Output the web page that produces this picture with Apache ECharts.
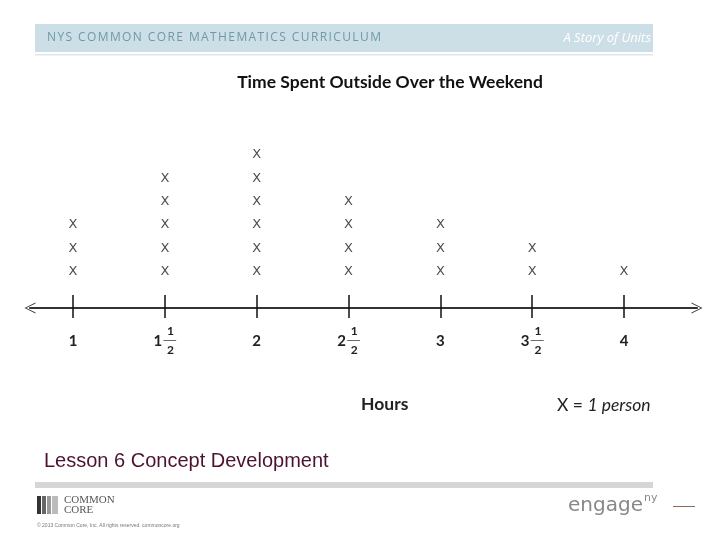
<!DOCTYPE html>
<html>
<head>
<meta charset="utf-8">
<script src="https://cdn.jsdelivr.net/npm/echarts@6/dist/echarts.min.js"></script>
<style>html,body{margin:0;padding:0;background:#fff}#c{width:720px;height:540px}</style>
</head>
<body>
<div id="c"></div>
<script>
// ---- data ----
const hours = [1, 1.5, 2, 2.5, 3, 3.5, 4];
const counts = [3, 5, 6, 4, 3, 2, 1];
const tickWhole = ['1', '1', '2', '2', '3', '3', '4'];
const tickNum = ['', '1', '', '1', '', '1', ''];
const tickDen = ['', '2', '', '2', '', '2', ''];
const chartTitle = 'Time Spent Outside Over the Weekend';
const axisName = 'Hours';
const keyText = 'X = ';
const keyItalic = '1 person';
const headerLeft = 'NYS COMMON CORE MATHEMATICS CURRICULUM';
const headerRight = 'A Story of Units';
const lessonText = 'Lesson 6 Concept Development';

const points = [];
hours.forEach((h, i) => { for (let k = 1; k <= counts[i]; k++) points.push([h, k]); });

const chart = echarts.init(document.getElementById('c'), null, {renderer: 'canvas'});

function tickLabel(v) {
  const i = hours.findIndex(h => Math.abs(h - v) < 1e-6);
  if (i < 0) return '';
  if (tickNum[i]) {
    return '{s|\u00a0}{n|' + tickNum[i] + '}\n{wm|' + tickWhole[i] + '}{bar|──}\n{s|\u00a0}{n|' + tickDen[i] + '}';
  }
  return '{e|\u00a0}\n{w|' + tickWhole[i] + '}\n{e|\u00a0}';
}

const spaced = headerLeft.split('').map(c => '{c|' + c + '}').join('');

const chevron = 'path://M0,10 L5,0 L10,10 L9,10 L5,1.6 L1,10 Z';

chart.setOption({
  animation: false,
  grid: {left: 30, right: 23, top: 97.4, bottom: 232, containLabel: false, outerBoundsMode: 'none'},
  xAxis: [{
    type: 'value', min: 0.766, max: 4.397, position: 'bottom',
    splitLine: {show: false},
    axisLine: {show: true, onZero: false, lineStyle: {color: '#333', width: 2}, symbol: [chevron, chevron], symbolSize: [11, 12]},
    axisTick: {show: true, customValues: hours, length: 10, lineStyle: {color: '#111', width: 1.5}},
    axisLabel: {
      show: true, customValues: hours, margin: 18, formatter: tickLabel,
      rich: {
        w: {fontFamily: 'Lato', fontWeight: 'bold', fontSize: 15, color: '#222', lineHeight: 8},
        wm: {fontFamily: 'Lato', fontWeight: 'bold', fontSize: 15, color: '#222', lineHeight: 4, width: 10, align: 'left'},
        n: {fontFamily: 'Lato', fontWeight: 'bold', fontSize: 12, color: '#222', lineHeight: 11},
        s: {width: 11.5, fontSize: 12, lineHeight: 11},
        e: {fontSize: 12, lineHeight: 11},
        bar: {fontSize: 9, color: '#111', lineHeight: 8}
      }
    }
  }, {
    type: 'value', min: 0.766, max: 4.397, position: 'bottom', offset: 0,
    splitLine: {show: false},
    axisLine: {show: false, onZero: false},
    axisTick: {show: true, inside: true, customValues: hours, length: 13, lineStyle: {color: '#111', width: 1.5}},
    axisLabel: {show: false}
  }],
  yAxis: {type: 'value', min: -0.55, max: 8.45, show: false, splitLine: {show: false}},
  series: [{
    type: 'scatter', xAxisIndex: 0, data: points, symbolSize: 1,
    itemStyle: {color: 'rgba(0,0,0,0)'},
    label: {show: true, position: 'inside', formatter: 'X', fontFamily: 'DejaVu Sans', fontSize: 13, color: '#222'}
  }],
  graphic: [
    {type: 'rect', shape: {x: 35, y: 24, width: 618, height: 28}, style: {fill: '#cddfe6'}},
    {type: 'rect', shape: {x: 35, y: 54, width: 618, height: 1.5}, style: {fill: '#dde6ea'}},
    {type: 'text', x: 47, y: 38, style: {text: spaced, verticalAlign: 'middle',
      rich: {c: {fontFamily: 'Open Sans', fontSize: 12, fill: '#6f98a8', padding: [0, 1.4, 0, 0]}}}},
    {type: 'text', x: 651, y: 38, style: {text: headerRight, fontFamily: 'Open Sans', fontStyle: 'italic', fontSize: 13, fill: '#ffffff', align: 'right', verticalAlign: 'middle'}},
    {type: 'text', x: 390, y: 82, style: {text: chartTitle, fontFamily: 'Lato', fontWeight: 'bold', fontSize: 17.5, fill: '#111', align: 'center', verticalAlign: 'middle'}},
    {type: 'text', x: 361, y: 404, style: {text: axisName, fontFamily: 'Lato', fontWeight: 'bold', fontSize: 17.5, fill: '#222', verticalAlign: 'middle'}},
    {type: 'text', x: 557, y: 405, style: {text: '{a|' + keyText + '}{b|' + keyItalic + '}', verticalAlign: 'middle',
      rich: {a: {fontFamily: 'Lato', fontSize: 17.5, fill: '#222'}, b: {fontFamily: 'Lato', fontStyle: 'italic', fontSize: 17.5, fill: '#222'}}}},
    {type: 'text', x: 44, y: 461, style: {text: lessonText, fontFamily: 'Liberation Sans', fontSize: 20, fill: '#4d1232', verticalAlign: 'middle'}},
    {type: 'rect', shape: {x: 35, y: 482, width: 618, height: 6}, style: {fill: '#d6d6d6'}},
    {type: 'rect', shape: {x: 37, y: 496, width: 4, height: 18}, style: {fill: '#333'}},
    {type: 'rect', shape: {x: 42, y: 496, width: 4, height: 18}, style: {fill: '#666'}},
    {type: 'rect', shape: {x: 47, y: 496, width: 4, height: 18}, style: {fill: '#999'}},
    {type: 'rect', shape: {x: 52, y: 496, width: 6, height: 18}, style: {fill: '#bbb'}},
    {type: 'text', x: 64, y: 500, style: {text: 'COMMON', fontFamily: 'Liberation Serif', fontSize: 11, fill: '#555', verticalAlign: 'middle'}},
    {type: 'text', x: 64, y: 510, style: {text: 'CORE', fontFamily: 'Liberation Serif', fontSize: 11, fill: '#555', verticalAlign: 'middle'}},
    {type: 'text', x: 37, y: 526, style: {text: '© 2013 Common Core, Inc. All rights reserved. commoncore.org', fontFamily: 'Liberation Sans', fontSize: 5, fill: '#777', verticalAlign: 'middle'}},
    {type: 'text', x: 568, y: 506, style: {text: 'engage', fontFamily: 'DejaVu Sans', fontSize: 20, fill: '#888', verticalAlign: 'middle'}},
    {type: 'text', x: 644, y: 498, style: {text: 'ny', fontFamily: 'DejaVu Sans', fontSize: 11, fill: '#888', verticalAlign: 'middle'}},
    {type: 'rect', shape: {x: 673, y: 506, width: 22, height: 1}, style: {fill: '#8a6a5a'}}
  ]
});
</script>
</body>
</html>
